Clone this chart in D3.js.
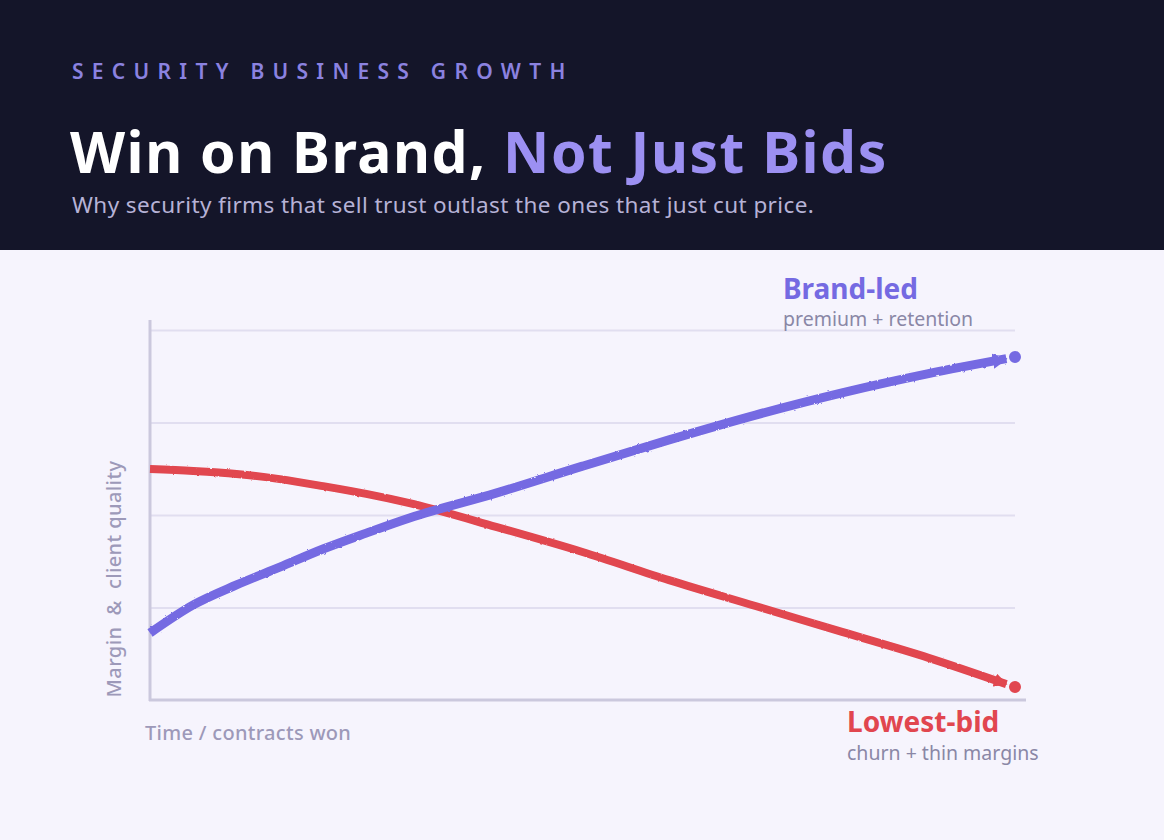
<!DOCTYPE html>
<html>
<head>
<meta charset="utf-8">
<style>
  body { margin: 0; background: #f6f4fd; font-family: 'Noto Sans', 'Open Sans', sans-serif; }
  svg { display: block; }
  .grid .tick line { stroke: #e1def0; stroke-width: 2; }
  .grid .domain { display: none; }
  .grid text { display: none; }
</style>
</head>
<body>
<svg width="1164" height="840"></svg>
<script src="https://d3js.org/d3.v7.min.js"></script>
<script>
// time / contracts won (0-100) and index values
let times = [0, 5, 10, 15, 20, 25, 30, 40, 50, 60, 70, 80, 90, 100];
let brandLed = [18.1, 25.7, 31.1, 35.9, 40.8, 45.1, 49.2, 55.9, 63.2, 70.3, 77.0, 83.0, 88.2, 92.7];
let lowestBid = [62.4, 61.9, 61.1, 59.7, 57.8, 55.7, 53.2, 46.8, 40.0, 32.4, 25.4, 18.4, 11.4, 3.5];
let gridTicks = [25, 50, 75, 100];

let svg = d3.select("svg");

// header band
svg.append("rect").attr("x", 0).attr("y", 0).attr("width", 1164).attr("height", 250).style("fill", "#141529");

svg.append("text")
  .attr("x", 72).attr("y", 79)
  .style("font-size", "21px").style("font-weight", 600)
  .style("letter-spacing", "8.3px").style("fill", "#8b82e0")
  .text("SECURITY BUSINESS GROWTH");

let title = svg.append("text")
  .attr("x", 70).attr("y", 173)
  .style("font-size", "57px").style("font-weight", 700).style("fill", "#ffffff")
  .style("letter-spacing", "1.5px");
title.append("tspan").text("Win on Brand, ");
title.append("tspan").style("fill", "#9c90f2").text("Not Just Bids");

svg.append("text")
  .attr("x", 72).attr("y", 213)
  .style("font-size", "22.5px").style("fill", "#b6b2d6").style("letter-spacing", "0.4px")
  .text("Why security firms that sell trust outlast the ones that just cut price.");

// chart
let x = d3.scaleLinear().domain([0, 100]).range([150, 1015]);
let y = d3.scaleLinear().domain([0, 100]).range([700, 330]);

svg.append("g")
  .attr("class", "grid")
  .attr("transform", "translate(150,0)")
  .call(d3.axisLeft(y).tickValues(gridTicks).tickSize(-(1015 - 150)).tickFormat(""));

// axes
svg.append("line").attr("x1", 150).attr("x2", 150).attr("y1", 320).attr("y2", 701)
  .style("stroke", "#cbc8dd").style("stroke-width", 3);
svg.append("line").attr("x1", 149).attr("x2", 1026).attr("y1", 700).attr("y2", 700)
  .style("stroke", "#cbc8dd").style("stroke-width", 3);

// rough filter for the hand-drawn strokes
let defs = svg.append("defs");
let f = defs.append("filter").attr("id", "rough").attr("x", "-5%").attr("y", "-20%").attr("width", "110%").attr("height", "140%");
f.append("feTurbulence").attr("type", "fractalNoise").attr("baseFrequency", 0.3).attr("numOctaves", 2).attr("result", "n");
f.append("feDisplacementMap").attr("in", "SourceGraphic").attr("in2", "n").attr("scale", 2.2);

function marker(id, color) {
  defs.append("marker")
    .attr("id", id).attr("viewBox", "0 0 10 10")
    .attr("refX", 9).attr("refY", 5)
    .attr("markerWidth", 1.7).attr("markerHeight", 1.7)
    .attr("markerUnits", "strokeWidth")
    .attr("orient", "auto")
    .append("path").attr("d", "M0,0 L10,5 L0,10 Z").style("fill", color);
}
marker("arrBlue", "#756ae2");
marker("arrRed", "#e1464f");

// stop line just before the end dot so the arrow shows
function trimmed(vals) {
  let n = vals.length;
  let t = 0.9;
  let last = vals[n - 2] + (vals[n - 1] - vals[n - 2]) * t;
  return { v: vals.slice(0, n - 1).concat([last]), t: times.slice(0, n - 1).concat([times[n - 2] + (times[n - 1] - times[n - 2]) * t]) };
}
function drawSeries(vals, color, mk, w) {
  let tr = trimmed(vals);
  let l = d3.line().x((d, i) => x(tr.t[i])).y(d => y(d)).curve(d3.curveMonotoneX);
  svg.append("path")
    .attr("d", l(tr.v))
    .attr("filter", "url(#rough)")
    .attr("marker-end", "url(#" + mk + ")")
    .style("fill", "none").style("stroke", color)
    .style("stroke-width", w).style("stroke-linecap", "butt");
  svg.append("circle")
    .attr("cx", x(times[times.length - 1])).attr("cy", y(vals[vals.length - 1]))
    .attr("r", 7).style("fill", color)
    .style("stroke", "#f6f4fd").style("stroke-width", 2);
}
drawSeries(lowestBid, "#e1464f", "arrRed", 8);
drawSeries(brandLed, "#756ae2", "arrBlue", 9);

// labels
svg.append("text").attr("x", 783).attr("y", 299)
  .style("font-size", "28px").style("font-weight", 700).style("fill", "#756ae2").text("Brand-led");
svg.append("text").attr("x", 783).attr("y", 326)
  .style("font-size", "19.5px").style("fill", "#8a87a6").text("premium + retention");

svg.append("text").attr("x", 847).attr("y", 732)
  .style("font-size", "28px").style("font-weight", 700).style("fill", "#e1464f").text("Lowest-bid");
svg.append("text").attr("x", 847).attr("y", 760)
  .style("font-size", "19.5px").style("fill", "#8a87a6").text("churn + thin margins");

svg.append("text").attr("x", 145).attr("y", 740)
  .style("font-size", "20px").style("font-weight", 500).style("letter-spacing", "0.3px")
  .style("fill", "#9d99b9").text("Time / contracts won");

svg.append("text")
  .attr("transform", "translate(121,579) rotate(-90)")
  .attr("text-anchor", "middle")
  .style("font-size", "20px").style("font-weight", 500).style("letter-spacing", "0.4px")
  .style("fill", "#9d99b9")
  .style("white-space", "pre")
  .text("Margin  &  client quality");
</script>
</body>
</html>
